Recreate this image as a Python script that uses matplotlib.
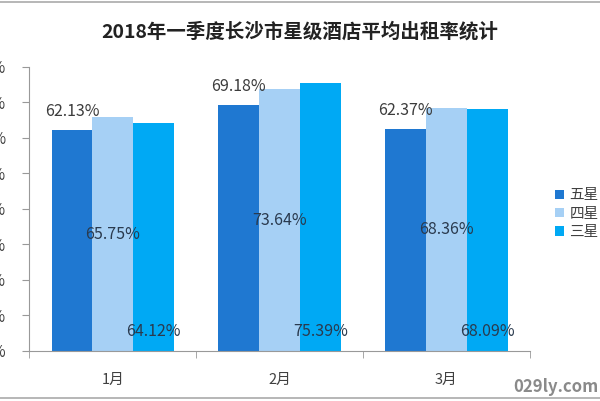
import matplotlib
matplotlib.use("Agg")
import matplotlib.pyplot as plt
import numpy as np

plt.rcParams['font.family'] = ['Noto Sans CJK SC', 'DejaVu Sans']

months = ["1月", "2月", "3月"]
series = ["五星", "四星", "三星"]
five_star = [62.13, 69.18, 62.37]
four_star = [65.75, 73.64, 68.36]
three_star = [64.12, 75.39, 68.09]
yticks = [0, 10, 20, 30, 40, 50, 60, 70, 80]
colors = ["#1F78D1", "#A6D0F5", "#00A9F4"]

fig = plt.figure(figsize=(6, 4.01), dpi=100)
ax = fig.add_axes([0.049, 0.1247, 0.834, 0.709])

x = np.arange(len(months))
w = 0.245
data = [five_star, four_star, three_star]
bars = []
for i, vals in enumerate(data):
    b = ax.bar(x + (i - 1) * w, vals, w, color=colors[i], label=series[i])
    bars.append(b)

lab_color = "#3c3c3c"
# five star: above the bar
for rect, v in zip(bars[0], five_star):
    ax.annotate(f"{v:.2f}%", (rect.get_x() + rect.get_width() / 2, v),
                xytext=(0, 19), textcoords="offset pixels",
                ha="center", va="center", fontsize=11.5, color=lab_color)
# four star: middle of the bar
for rect, v in zip(bars[1], four_star):
    ax.text(rect.get_x() + rect.get_width() / 2, v / 2, f"{v:.2f}%",
            ha="center", va="center", fontsize=11.5, color="#2a3a4e")
# three star: inside base
for rect, v in zip(bars[2], three_star):
    ax.annotate(f"{v:.2f}%", (rect.get_x() + rect.get_width() / 2, 0),
                xytext=(0, 19), textcoords="offset pixels",
                ha="center", va="center", fontsize=11.5, color="#2a3a4e")

ax.set_xlim(-0.5, 2.5)
ax.set_ylim(0, 80)
ax.set_yticks(yticks)
ax.set_yticklabels([f"{t}%" for t in yticks], fontsize=11, color="#404040")
ax.set_xticks(x)
ax.set_xticklabels(months, fontsize=10.5, color="#404040")
ax.set_xticks([-0.5, 0.5, 1.5, 2.5], minor=True)
ax.tick_params(axis="x", which="major", length=0, pad=16)
ax.tick_params(axis="x", which="minor", length=5, color="#999999", direction="out")
ax.tick_params(axis="y", length=5, color="#999999", pad=12)

for s in ["top", "right"]:
    ax.spines[s].set_visible(False)
for s in ["left", "bottom"]:
    ax.spines[s].set_color("#999999")

fig.text(0.5, 0.922, "2018年一季度长沙市星级酒店平均出租率统计",
         ha="center", va="center", fontsize=14, fontweight="bold", color="#222222")

leg = fig.legend(loc="upper left", bbox_to_anchor=(0.915, 0.545), frameon=False,
                 handlelength=0.6, handleheight=0.6, handletextpad=0.4,
                 labelspacing=0.3, fontsize=10.5, borderaxespad=0)
for t in leg.get_texts():
    t.set_color("#404040")

fig.text(0.997, 0.035, "029ly.com", ha="right", va="center", fontsize=12,
         fontweight="bold", color="#8a8a8a")

fig.add_artist(plt.Line2D([0, 1], [0.995, 0.995], color="#aaaaaa", lw=1.2))
fig.add_artist(plt.Line2D([0, 1], [0.007, 0.007], color="#aaaaaa", lw=1.2))

fig.savefig("out.png", dpi=100)
